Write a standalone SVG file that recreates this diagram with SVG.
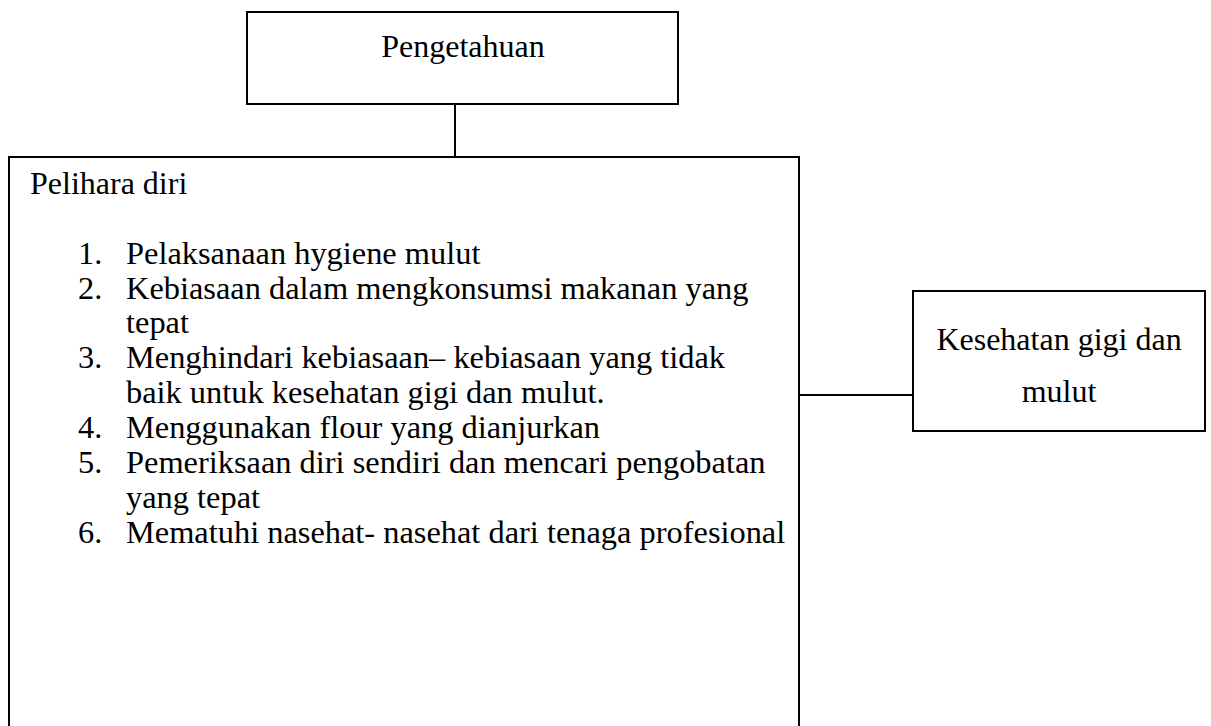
<svg xmlns="http://www.w3.org/2000/svg" width="1211" height="726" viewBox="0 0 1211 726">
<style>
.box{fill:#fff;stroke:#000;stroke-width:2}
.t{font-family:"Liberation Serif","Times New Roman",serif;font-size:32px;fill:#000}
.l{font-size:32.4px}
.c{stroke:#000;stroke-width:2;fill:none}
</style>
<rect width="1211" height="726" fill="#fff"/>
<g id="connectors">
<line class="c" x1="455" y1="104" x2="455" y2="157"/>
<line class="c" x1="799" y1="395" x2="913" y2="395"/>
</g>
<g id="pengetahuan">
<rect class="box" x="247" y="12" width="431" height="92"/>
<text class="t" x="463" y="57" text-anchor="middle">Pengetahuan</text>
</g>
<g id="pelihara">
<rect class="box" x="9" y="157" width="790" height="600"/>
<text class="t" x="30" y="194">Pelihara diri</text>
<text class="t l" x="78" y="264">1.</text><text class="t l" x="126" y="264">Pelaksanaan hygiene mulut</text>
<text class="t l" x="78" y="299">2.</text><text class="t l" x="126" y="299">Kebiasaan dalam mengkonsumsi makanan yang</text>
<text class="t l" x="126" y="333">tepat</text>
<text class="t l" x="78" y="368">3.</text><text class="t l" x="126" y="368">Menghindari kebiasaan– kebiasaan yang tidak</text>
<text class="t l" x="126" y="403">baik untuk kesehatan gigi dan mulut.</text>
<text class="t l" x="78" y="438">4.</text><text class="t l" x="126" y="438">Menggunakan flour yang dianjurkan</text>
<text class="t l" x="78" y="473">5.</text><text class="t l" x="126" y="473">Pemeriksaan diri sendiri dan mencari pengobatan</text>
<text class="t l" x="126" y="508">yang tepat</text>
<text class="t l" x="78" y="543">6.</text><text class="t l" x="126" y="543">Mematuhi nasehat- nasehat dari tenaga profesional</text>
</g>
<g id="kesehatan">
<rect class="box" x="913" y="291" width="292" height="140"/>
<text class="t" x="1059" y="350" text-anchor="middle">Kesehatan gigi dan</text>
<text class="t" x="1059" y="402" text-anchor="middle">mulut</text>
</g>
</svg>
